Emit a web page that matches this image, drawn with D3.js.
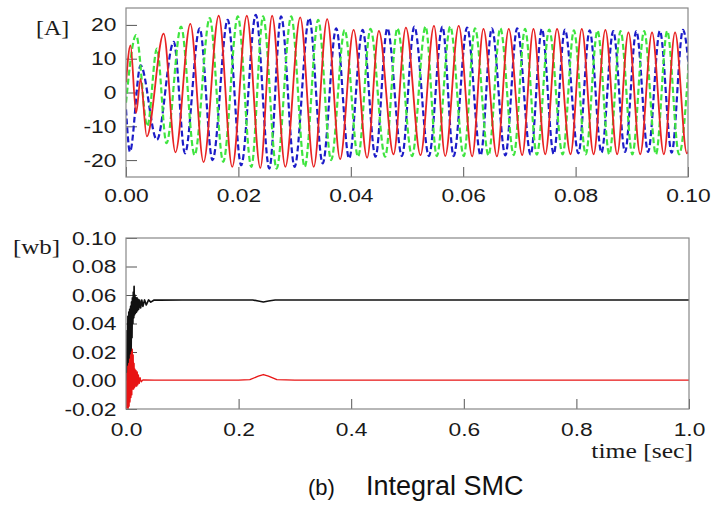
<!DOCTYPE html>
<html>
<head>
<meta charset="utf-8">
<script src="https://cdn.jsdelivr.net/npm/d3@7"></script>
<style>
  body { margin: 0; background: #fff; }
  svg { display: block; }
</style>
</head>
<body>
<svg id="chart" width="712" height="507"></svg>
<script>
// ---- Stator phase currents [A]: successive extrema (time in s, current in A) ----
const phaseA = [
  [0, 3], [0.0008, 13.9], [0.0018, -6], [0.0026, 4], [0.0037, -13],
  [0.0067, 17.4], [0.0088, -17.7], [0.01145, 20.3], [0.0138, -20.6],
  [0.0165, 22.7], [0.0189, -22], [0.0215, 22.7], [0.0239, -22.3],
  [0.0260, 22.7], [0.02835, -22], [0.0310, 22.2], [0.0334, -22],
  [0.0358, 21.7], [0.0381, -19.7], [0.0405, 18.5], [0.0429, -19.3],
  [0.0450, 18.2], [0.0476, -18.3], [0.0498, 19.2], [0.0524, -18.5],
  [0.0548, 19.7], [0.0568, -18.8], [0.0592, 19.7], [0.0616, -18.9],
  [0.0636, 18.8], [0.0660, -18.9], [0.0681, 18.8], [0.0705, -18.5],
  [0.0725, 18.8], [0.0746, -18.3], [0.0767, 18.8], [0.0791, -18.3],
  [0.0811, 18.8], [0.0832, -18.3], [0.0853, 18.5], [0.0874, -18.3],
  [0.0894, 17.8], [0.0915, -18.3], [0.0936, 17.8], [0.0957, -18.3],
  [0.0977, 17.8], [0.0998, -18.0], [0.1019, 17.8]
];
const phaseB = [
  [0, -5], [0.0007, -17.5], [0.0026, 8], [0.0055, -14], [0.0085, 15],
  [0.0105, -18], [0.0131, 19], [0.0154, -20], [0.0181, 21.5], [0.0205, -21.5],
  [0.0231, 23], [0.0255, -22.5], [0.0276, 22.5], [0.0300, -22], [0.0326, 22],
  [0.0350, -21], [0.0374, 19], [0.0397, -19.5], [0.0421, 18.5], [0.0444, -19],
  [0.0465, 19], [0.0491, -18.8], [0.0513, 19.5], [0.0539, -18.8], [0.0563, 19.5],
  [0.0583, -18.8], [0.0607, 19.2], [0.0631, -18.6], [0.0651, 19], [0.0675, -18.6],
  [0.0696, 19], [0.0720, -18.4], [0.0740, 18.8], [0.0761, -18.2], [0.0781, 18.6],
  [0.0805, -18], [0.0825, 18.4], [0.0846, -17.8], [0.0867, 18.2], [0.0888, -17.6],
  [0.0908, 18.2], [0.0929, -17.6], [0.0950, 18.2], [0.0971, -17.8], [0.0991, 18.5],
  [0.1012, -18.5]
];
const phaseC = [
  [0, -3], [0.0018, 17], [0.0038, -10], [0.0055, 13], [0.0072, -15],
  [0.0098, 19.5], [0.0122, -18.5], [0.0149, 22], [0.0173, -20.5], [0.0199, 22.5],
  [0.0223, -22], [0.0244, 22.5], [0.0268, -22.5], [0.0294, 22.5], [0.0318, -22],
  [0.0342, 21.5], [0.0365, -20], [0.0389, 18.5], [0.0413, -19], [0.0435, 18.8],
  [0.0461, -19], [0.0483, 19], [0.0509, -18.8], [0.0533, 19.5], [0.0553, -18.8],
  [0.0577, 19.5], [0.0601, -18.8], [0.0621, 19], [0.0645, -18.6], [0.0666, 19],
  [0.0690, -18.5], [0.0710, 18.8], [0.0731, -18.4], [0.0753, 18.6], [0.0777, -18.3],
  [0.0797, 18.4], [0.0818, -18.3], [0.0839, 18.3], [0.0860, -18.3], [0.0880, 18.2],
  [0.0901, -18.3], [0.0922, 18.2], [0.0943, -18.3], [0.0963, 18.2], [0.0984, -18.3],
  [0.1005, 18.5]
];

// ---- Rotor flux [wb]: (time in s, flux in wb) ----
const fluxMain = [
  [0, 0.0], [0.001, -0.02], [0.0018, 0.035], [0.0026, -0.018], [0.0034, 0.045],
  [0.0042, -0.012], [0.005, 0.048], [0.0058, -0.005], [0.0066, 0.05], [0.0074, 0.005],
  [0.0082, 0.052], [0.009, 0.015], [0.0098, 0.055], [0.0106, 0.03], [0.0114, 0.058],
  [0.0122, 0.04], [0.013, 0.062], [0.0138, 0.044], [0.0144, 0.066], [0.015, 0.046],
  [0.0158, 0.06], [0.0166, 0.047], [0.0175, 0.058], [0.0185, 0.048], [0.0195, 0.058],
  [0.0205, 0.049], [0.0215, 0.057], [0.0225, 0.05], [0.024, 0.0565], [0.026, 0.051],
  [0.028, 0.0565], [0.03, 0.052], [0.033, 0.0565], [0.036, 0.053], [0.04, 0.0565],
  [0.044, 0.055], [0.05, 0.0565], [0.06, 0.0564], [0.1, 0.0565], [0.2, 0.0565],
  [0.225, 0.0565], [0.235, 0.0558], [0.244, 0.0551], [0.253, 0.0558], [0.265, 0.0565],
  [0.4, 0.0565], [0.6, 0.0565], [0.8, 0.0565], [1.0, 0.0565]
];
const fluxCross = [
  [0, 0], [0.0008, -0.02], [0.0016, 0.005], [0.0024, -0.02], [0.0032, 0.01],
  [0.004, -0.02], [0.0048, 0.012], [0.0056, -0.018], [0.0064, 0.015], [0.0072, -0.015],
  [0.008, 0.018], [0.0088, -0.012], [0.0096, 0.02], [0.0104, -0.01], [0.0112, 0.022],
  [0.012, -0.006], [0.0128, 0.018], [0.0136, -0.006], [0.0144, 0.012], [0.0152, -0.005],
  [0.016, 0.008], [0.017, -0.004], [0.018, 0.007], [0.019, -0.004], [0.02, 0.006],
  [0.021, -0.003], [0.022, 0.004], [0.0235, -0.002], [0.025, 0.002], [0.027, -0.001],
  [0.03, 0.0005], [0.05, 0.0003], [0.2, 0.0003], [0.22, 0.0006], [0.235, 0.003],
  [0.244, 0.0042], [0.253, 0.003], [0.268, 0.0006], [0.3, 0.0003], [1.0, 0.0003]
];

// ---- Tick values ----
const currentTicksY = [-20, -10, 0, 10, 20];
const currentTicksX = [0, 0.02, 0.04, 0.06, 0.08, 0.10];
const fluxTicksY = [-0.02, 0, 0.02, 0.04, 0.06, 0.08, 0.10];
const fluxTicksX = [0, 0.2, 0.4, 0.6, 0.8, 1.0];

const svg = d3.select("#chart");
const fmt = d3.formatLocale({ decimal: ".", thousands: ",", grouping: [3], currency: ["", ""], minus: "-" });
const tickFont = "'Liberation Sans', Arial, sans-serif";
const serif = "'Liberation Serif', 'Times New Roman', serif";
const stretch = "scale(1.2,1)";

function styleAxis(g) {
  g.select(".domain").remove();
  g.selectAll(".tick line").attr("stroke", "#555").attr("stroke-width", 1);
  g.selectAll(".tick text")
    .attr("fill", "#1a1a1a")
    .style("font-family", tickFont)
    .style("font-size", "19px")
    .attr("transform", stretch);
}

function panel(opt) {
  const x = d3.scaleLinear().domain(opt.xDomain).range([opt.left, opt.right]);
  const y = d3.scaleLinear().domain(opt.yDomain).range([opt.bottom, opt.top]);
  const id = opt.id;

  svg.append("clipPath").attr("id", id)
    .append("rect")
    .attr("x", opt.left).attr("y", opt.top)
    .attr("width", opt.right - opt.left).attr("height", opt.bottom - opt.top);

  svg.append("g")
    .attr("transform", `translate(${opt.left},0)`)
    .call(d3.axisLeft(y).tickValues(opt.yTicks).tickSizeInner(-11).tickSizeOuter(0)
      .tickPadding(8).tickFormat(fmt.format(opt.yFmt)))
    .call(styleAxis);

  svg.append("g")
    .attr("transform", `translate(0,${opt.bottom})`)
    .call(d3.axisBottom(x).tickValues(opt.xTicks).tickSizeInner(-10).tickSizeOuter(0)
      .tickPadding(opt.xPad).tickFormat(fmt.format(opt.xFmt)))
    .call(styleAxis);

  const plot = svg.append("g").attr("clip-path", `url(#${id})`);
  opt.series.forEach(s => {
    const line = d3.line()
      .x(d => x(d[0])).y(d => y(d[1]))
      .curve(s.curve || d3.curveLinear);
    plot.append("path")
      .datum(s.data)
      .attr("d", line)
      .attr("fill", "none")
      .attr("stroke", s.color)
      .attr("stroke-width", s.width)
      .attr("stroke-dasharray", s.dash || null)
      .attr("stroke-linejoin", "round");
  });

  svg.append("rect")
    .attr("x", opt.left).attr("y", opt.top)
    .attr("width", opt.right - opt.left).attr("height", opt.bottom - opt.top)
    .attr("fill", "none").attr("stroke", "#888").attr("stroke-width", 1.2);
  return { x, y };
}

// Upper panel: three-phase stator currents
panel({
  id: "clipCurrent",
  left: 126, right: 688, top: 8, bottom: 177,
  xDomain: [0, 0.1], yDomain: [-25, 25],
  xTicks: currentTicksX, yTicks: currentTicksY,
  xFmt: ".2f", yFmt: "d", xPad: 12,
  series: [
    { data: phaseB, color: "#1c1cc8", width: 2.2, dash: "6,3", curve: d3.curveMonotoneX },
    { data: phaseC, color: "#3fe43f", width: 2.2, dash: "6,3", curve: d3.curveMonotoneX },
    { data: phaseA, color: "#e82424", width: 1.8, curve: d3.curveMonotoneX }
  ]
});

// Lower panel: rotor flux components
panel({
  id: "clipFlux",
  left: 126, right: 689, top: 238, bottom: 409,
  xDomain: [0, 1], yDomain: [-0.02, 0.10],
  xTicks: fluxTicksX, yTicks: fluxTicksY,
  xFmt: ".1f", yFmt: ".2f", xPad: 14,
  series: [
    { data: fluxMain, color: "#111", width: 1.7 },
    { data: fluxCross, color: "#e81414", width: 1.3 }
  ]
});

// Unit labels
svg.append("text").text("[A]")
  .attr("transform", "translate(36,35) scale(1.2,1)")
  .style("font-family", serif).style("font-size", "20px").attr("fill", "#1a1a1a");
svg.append("text").text("[wb]")
  .attr("transform", "translate(13,254) scale(1.25,1)")
  .style("font-family", serif).style("font-size", "20px").attr("fill", "#1a1a1a");
svg.append("text").text("time [sec]")
  .attr("text-anchor", "end")
  .attr("transform", "translate(693,458) scale(1.28,1)")
  .style("font-family", serif).style("font-size", "20px").attr("fill", "#1a1a1a");

// Caption
svg.append("text").text("(b)")
  .attr("x", 308).attr("y", 495)
  .style("font-family", tickFont).style("font-size", "22px").attr("fill", "#111");
svg.append("text").text("Integral SMC")
  .attr("x", 366).attr("y", 495)
  .style("font-family", tickFont).style("font-size", "27px").attr("fill", "#111");
</script>
</body>
</html>
